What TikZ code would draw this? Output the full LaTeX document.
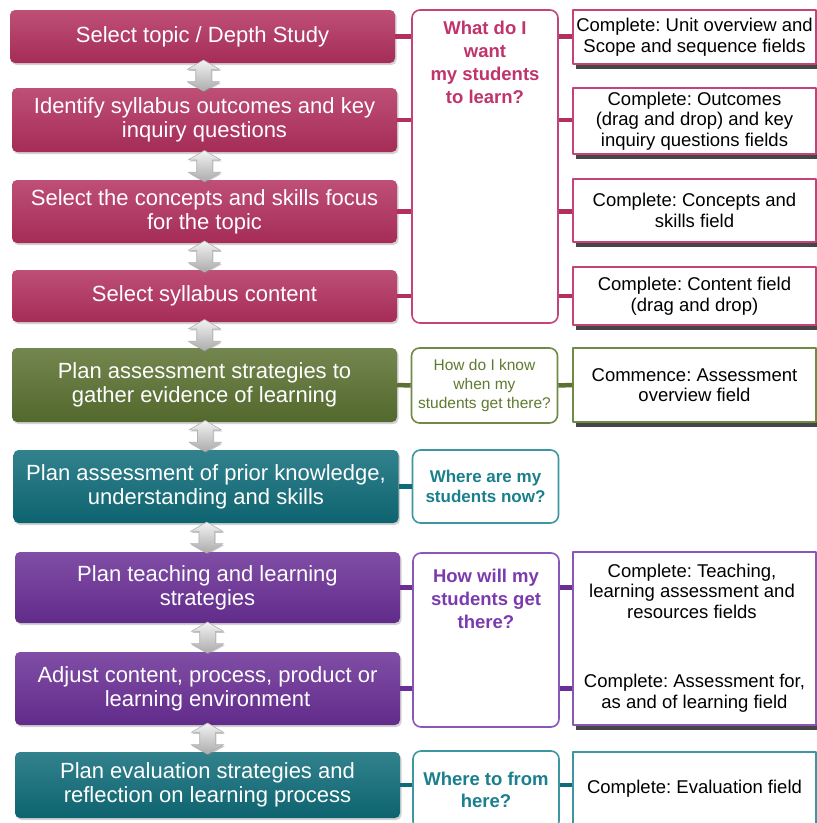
\documentclass[tikz,border=0pt]{standalone}
\usepackage{fontspec}
\setmainfont{Liberation Sans}
\usetikzlibrary{positioning}
\usetikzlibrary{shapes.arrows}
\usetikzlibrary{shadows}
\frenchspacing

\definecolor{stagepink}{HTML}{B3305E}
\definecolor{stagegreen}{HTML}{5A7130}
\definecolor{stageteal}{HTML}{0E6C79}
\definecolor{stagepurple}{HTML}{6A2F96}
\definecolor{askpink}{HTML}{C4447A}
\definecolor{askpinktext}{HTML}{C0336B}
\definecolor{askgreen}{HTML}{6F8A44}
\definecolor{askgreentext}{HTML}{5E7B30}
\definecolor{askteal}{HTML}{3C97A3}
\definecolor{asktealtext}{HTML}{1B7F8D}
\definecolor{askpurple}{HTML}{8A57B8}
\definecolor{askpurpletext}{HTML}{7B3BAE}

\begin{document}
\begin{tikzpicture}[x=1pt,y=-1pt,line join=round,
  stage/.style={rounded corners=5pt, top color=#1!85!white, bottom color=#1!92!black, text=white, align=center, font=\fontsize{22}{24}\selectfont, minimum width=385pt, inner sep=0pt, drop shadow={shadow xshift=1.5pt, shadow yshift=-2pt, opacity=.35}},
  ask/.style={draw=#1, line width=1.6pt, rounded corners=8pt, fill=white, minimum width=146pt, inner sep=0pt, align=center},
  asktext/.style={text=#1, align=center, inner sep=0pt},
  field/.style={draw=#1, line width=1.6pt, fill=white, minimum width=243pt, inner sep=0pt, align=center, font=\fontsize{18.5}{20.5}\selectfont, drop shadow={shadow xshift=3pt, shadow yshift=-5pt, opacity=.85, fill=black!85}},
  fieldtext/.style={align=center, inner sep=0pt, font=\fontsize{18.5}{20.5}\selectfont},
  link/.style={draw=#1, line width=4.5pt},
  updown/.style={double arrow, rotate=90, minimum height=31pt, minimum width=32pt, inner xsep=0pt, inner ysep=7.5pt, double arrow head extend=8.5pt, double arrow tip angle=120, top color=gray!10, bottom color=gray!65, draw=gray!60, line width=.6pt, drop shadow={shadow xshift=1pt, shadow yshift=-1.5pt, opacity=.45}}]
\useasboundingbox (0,0) rectangle (817,823);
\clip (0,0) rectangle (817,823);
\fill[white] (0,0) rectangle (817,823);

% left column
\node[stage=stagepink, minimum height=53pt] (topic) at (202.5,36.5) {Select topic / Depth Study};
\node[stage=stagepink, minimum height=64pt] (outcomes) at (204.5,120) {Identify syllabus outcomes and key\\inquiry questions};
\node[stage=stagepink, minimum height=63pt] (concepts) at (204.5,211.5) {Select the concepts and skills focus\\for the topic};
\node[stage=stagepink, minimum height=52pt] (content) at (204.5,296) {Select syllabus content};
\node[stage=stagegreen, minimum height=74pt] (assess) at (204.5,385) {Plan assessment strategies to\\gather evidence of learning};
\node[stage=stageteal, minimum height=73pt] (prior) at (206,486.5) {Plan assessment of prior knowledge,\\understanding and skills};
\node[stage=stagepurple, minimum height=71pt] (teach) at (207.5,587.5) {Plan teaching and learning\\strategies};
\node[stage=stagepurple, minimum height=73pt] (adjust) at (207.5,688.5) {Adjust content, process, product or\\learning environment};
\node[stage=stageteal, minimum height=66pt] (evaluate) at (207.5,785) {Plan evaluation strategies and\\reflection on learning process};

\foreach \a/\b in {topic/outcomes,outcomes/concepts,concepts/content,content/assess,assess/prior,prior/teach,teach/adjust,adjust/evaluate}
  \path (\a.south) -- (\b.north) node[midway,updown] {};

% middle column
\node[ask=askpink, minimum height=313pt] (want) at (485,166.5) {};
\node[asktext=askpinktext, below=12pt of want.north, font=\bfseries\fontsize{18.5}{23}\selectfont] (wanttxt) {What do I\\want\\my students\\to learn?};
\node[ask=askgreen, minimum height=75pt, text=askgreentext, font=\fontsize{15.5}{19}\selectfont] (know) at (484.5,385.5) {How do I know\\when my\\students get there?};
\node[ask=askteal, minimum height=73pt, text=asktealtext, font=\bfseries\fontsize{17}{20}\selectfont] (now) at (485.5,486.5) {Where are my\\students now?};
\node[ask=askpurple, minimum height=174pt] (how) at (486,640) {};
\node[asktext=askpurpletext, below=17pt of how.north, font=\bfseries\fontsize{18.5}{23}\selectfont] (howtxt) {How will my\\students get\\there?};
\node[ask=askteal, minimum height=78pt, text=asktealtext, font=\bfseries\fontsize{18.5}{22}\selectfont] (next) at (486,790) {Where to from\\here?};

% right column
\node[field=askpink, minimum height=54pt] (overview) at (694.5,37) {Complete: Unit overview and\\Scope and sequence fields};
\node[field=askpink, minimum height=66pt] (outfield) at (694.5,121) {Complete: Outcomes\\(drag and drop) and key\\inquiry questions fields};
\node[field=askpink, minimum height=63pt] (skillfield) at (694.5,210.5) {Complete: Concepts and\\skills field};
\node[field=askpink, minimum height=58pt] (contfield) at (694.5,296) {Complete: Content field\\(drag and drop)};
\node[field=askgreen, minimum height=74pt] (assessfield) at (694.5,385) {Commence: Assessment\\overview field};
\node[field=askpurple, minimum height=173pt] (teachfield) at (694.5,638.5) {};
\node[fieldtext] (teachtxt) at (692,591) {Complete: Teaching,\\learning assessment and\\resources fields};
\node[fieldtext] (fortxt) at (694.5,693) {Complete: Assessment for,\\as and of learning field};
\node[field=askteal, minimum height=74pt] (evalfield) at (694.5,789) {Complete: Evaluation field};

% connectors
\foreach \s/\f in {topic/overview,outcomes/outfield,concepts/skillfield,content/contfield}{
  \draw[link=stagepink] (\s.east) -- (\s.east -| want.west);
  \draw[link=stagepink] (\s.east -| want.east) -- (\s.east -| \f.west);
}
\draw[link=stagegreen] (assess.east) -- (know.west);
\draw[link=stagegreen] (know.east) -- (assessfield.west);
\draw[link=stageteal] (prior.east) -- (now.west);
\draw[link=stagepurple] (teach.east) -- (teach.east -| how.west);
\draw[link=stagepurple] (adjust.east) -- (adjust.east -| how.west);
\draw[link=stagepurple] (teach.east -| how.east) -- (teach.east -| teachfield.west);
\draw[link=stagepurple] (adjust.east -| how.east) -- (adjust.east -| teachfield.west);
\draw[link=stageteal] (evaluate.east) -- (evaluate.east -| next.west);
\draw[link=stageteal] (evaluate.east -| next.east) -- (evaluate.east -| evalfield.west);
\end{tikzpicture}
\end{document}
